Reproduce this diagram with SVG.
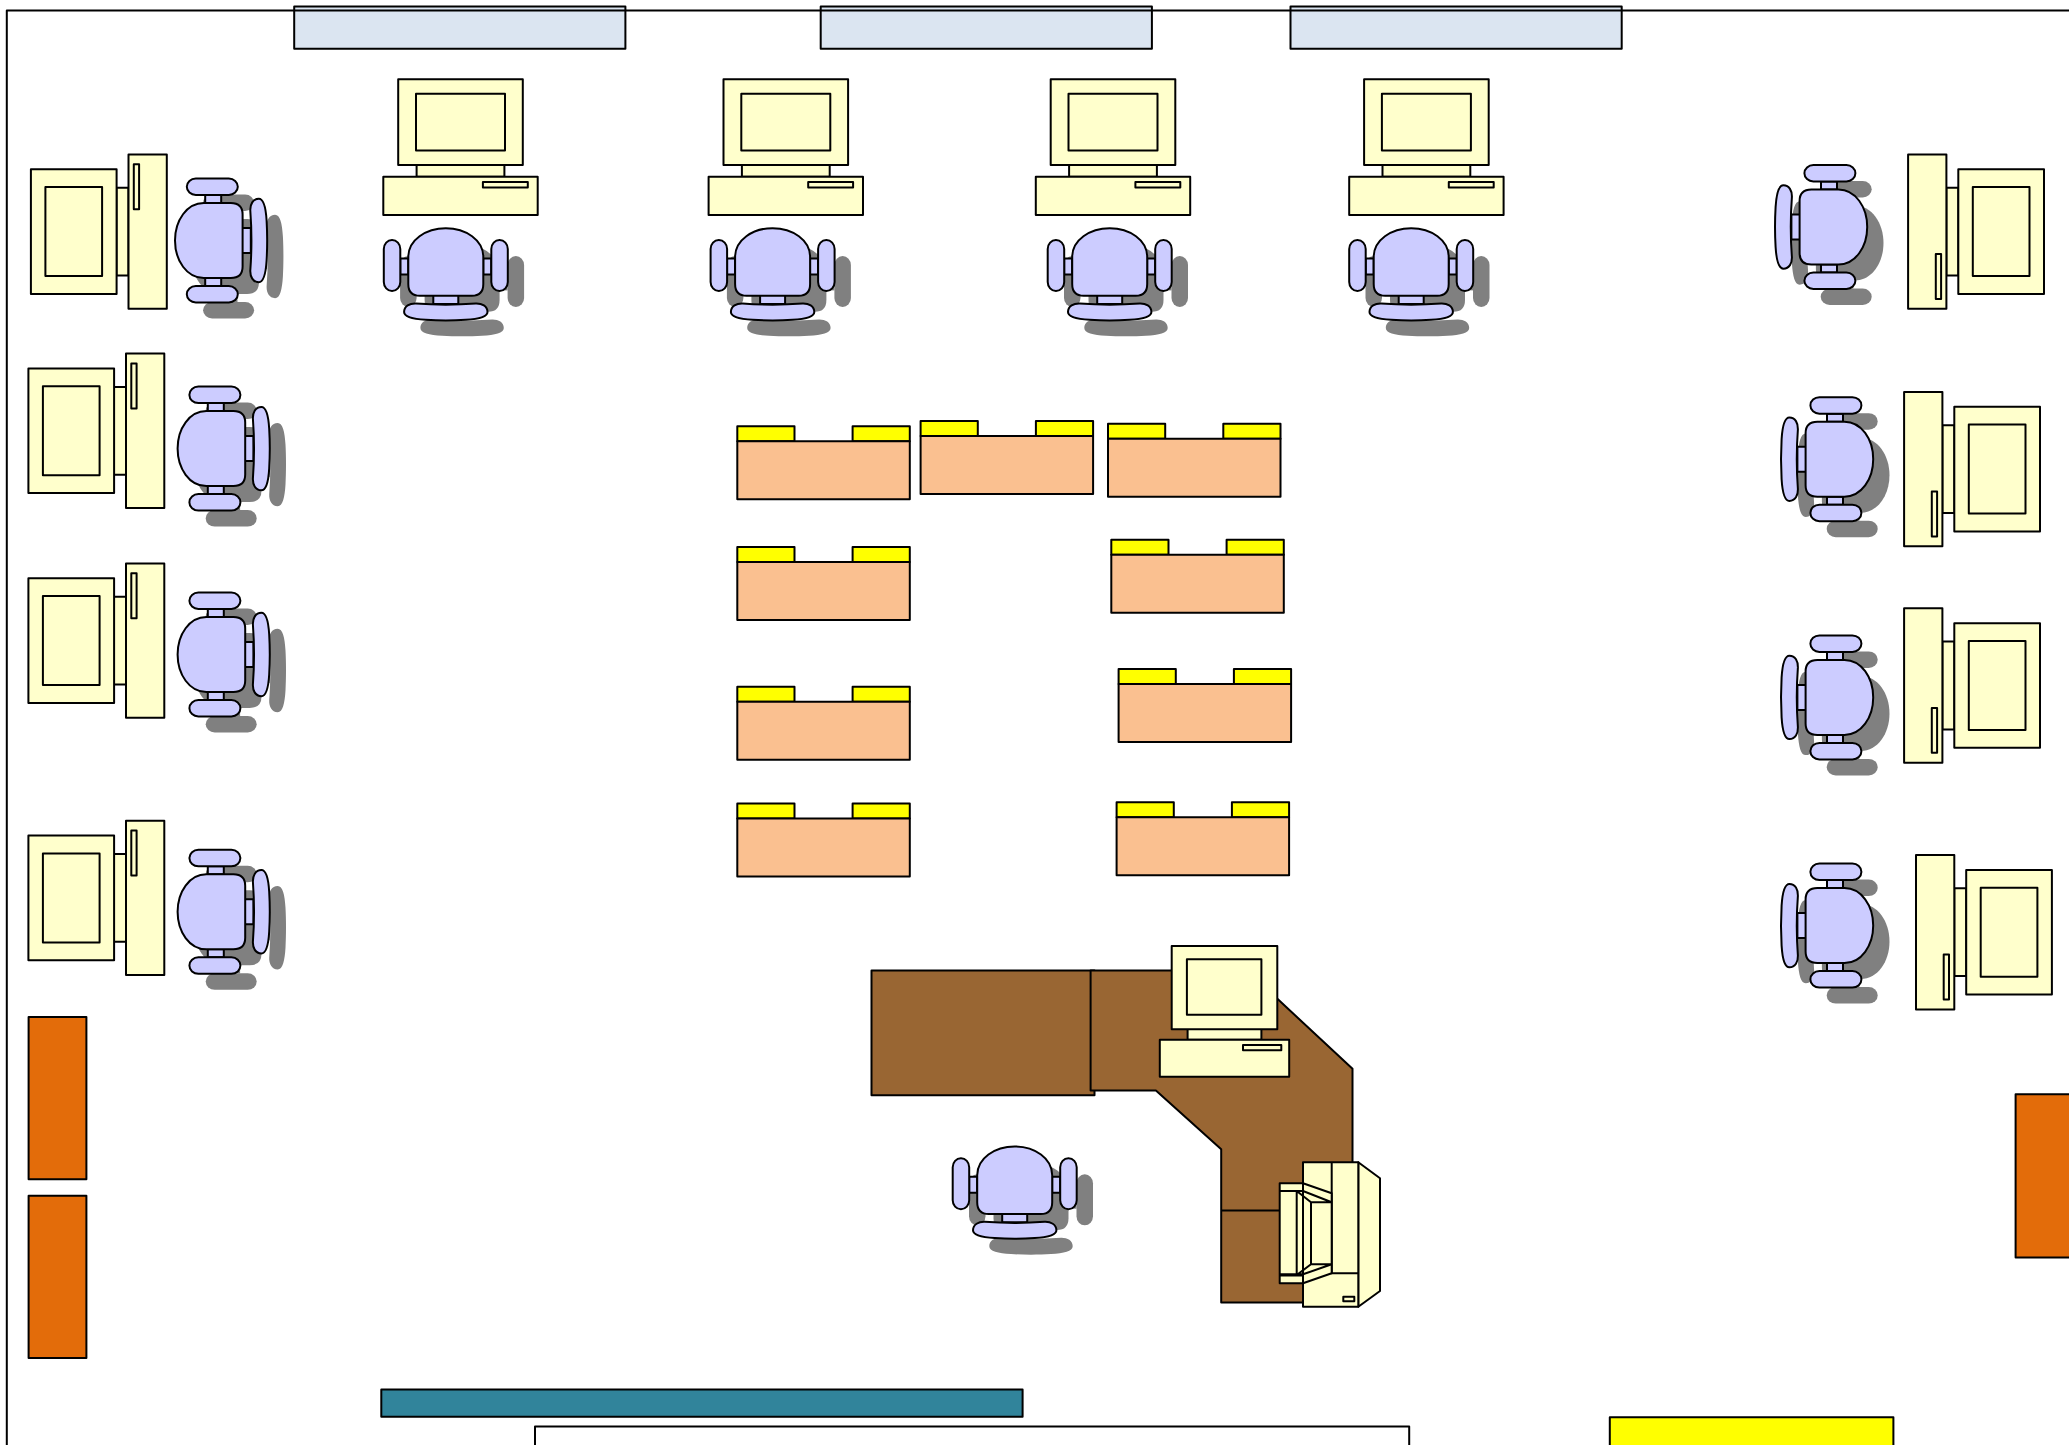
<svg xmlns="http://www.w3.org/2000/svg" width="2069" height="1445" viewBox="0 0 2069 1445">
<style>
.s{stroke:#000;stroke-width:2;stroke-linejoin:round}
.y{fill:#ffffcc}.c{fill:#ccccff}.sh{fill:#808080}
.yl{fill:#ffff00}.p{fill:#fac090}.b{fill:#996633}.lb{fill:#dbe5f1}.o{fill:#e36c0a}.t{fill:#31849b}
.n{fill:none}
</style>
<defs>
<g id="chairShape">
<rect x="-45.5" y="-3.6" width="8" height="16"/>
<rect x="37.5" y="-3.6" width="8" height="16"/>
<rect x="-12.5" y="33" width="25" height="9"/>
<rect x="-62" y="-22" width="16.5" height="51" rx="8.2" ry="9"/>
<rect x="45.5" y="-22" width="16.5" height="51" rx="8.2" ry="9"/>
<path d="M-37.5-5C-37.5-22-20-33.8 0-33.8S37.5-22 37.5-5V22Q37.5 33.8 26 33.8H-26Q-37.5 33.8-37.5 22Z"/>
<path d="M-41.7 50C-41.7 44-36 41.3-30 41.5C-10 43 10 43 30 41.5C36 41.3 41.7 44 41.7 50C41.7 55 33 57 20 57.8C8 58.5-8 58.5-20 57.8C-33 57-41.7 55-41.7 50Z"/>
</g>
<g id="chair-body" class="c s"><use href="#chairShape"/></g>
<g id="chair-shadow" class="sh"><use href="#chairShape"/></g>
<g id="pc" class="y s">
<rect x="-43.9" y="-12" width="87.8" height="12"/>
<rect x="-62.3" y="-97.6" width="124.6" height="85.7"/>
<rect x="-44.5" y="-83.1" width="89" height="56.7"/>
<rect x="-77.2" y="0" width="154.4" height="38.3"/>
<rect x="22.4" y="5.3" width="44.9" height="5.3"/>
</g>
<g id="table" class="s">
<rect class="yl" x="0" y="0" width="57.2" height="15"/>
<rect class="yl" x="115.3" y="0" width="57.2" height="15"/>
<rect class="p" x="0" y="15" width="172.5" height="58"/>
</g>
</defs>
<rect width="2069" height="1445" fill="#fff"/>
<g id="window-1"><rect class="lb s" x="294.2" y="6.6" width="331.2" height="42.2"/></g>
<g id="window-2"><rect class="lb s" x="820.7" y="6.6" width="331.2" height="42.2"/></g>
<g id="window-3"><rect class="lb s" x="1290.5" y="6.6" width="331.2" height="42.2"/></g>
<g id="room-border"><path class="n s" d="M2075 10.6H6.8V1450"/></g>

<g id="top-station-1"><use href="#chair-shadow" transform="translate(462.1,278)"/><use href="#chair-body" transform="translate(445.8,262)"/><use href="#pc" transform="translate(460.5,176.8)"/></g>
<g id="top-station-2"><use href="#chair-shadow" transform="translate(788.9,278)"/><use href="#chair-body" transform="translate(772.6,262)"/><use href="#pc" transform="translate(785.8,176.8)"/></g>
<g id="top-station-3"><use href="#chair-shadow" transform="translate(1126,278)"/><use href="#chair-body" transform="translate(1109.7,262)"/><use href="#pc" transform="translate(1113,176.8)"/></g>
<g id="top-station-4"><use href="#chair-shadow" transform="translate(1427.5,278)"/><use href="#chair-body" transform="translate(1411.2,262)"/><use href="#pc" transform="translate(1426.4,176.8)"/></g>

<g id="left-station-1"><use href="#chair-shadow" transform="translate(225.1,256.5) rotate(-90)"/><use href="#chair-body" transform="translate(208.8,240.5) rotate(-90)"/><use href="#pc" transform="translate(128.5,231.6) rotate(-90)"/></g>
<g id="left-station-2"><use href="#chair-shadow" transform="translate(227.7,464.6) rotate(-90)"/><use href="#chair-body" transform="translate(211.4,448.6) rotate(-90)"/><use href="#pc" transform="translate(126,430.8) rotate(-90)"/></g>
<g id="left-station-3"><use href="#chair-shadow" transform="translate(227.7,670.5) rotate(-90)"/><use href="#chair-body" transform="translate(211.4,654.5) rotate(-90)"/><use href="#pc" transform="translate(126,640.6) rotate(-90)"/></g>
<g id="left-station-4"><use href="#chair-shadow" transform="translate(227.7,927.8) rotate(-90)"/><use href="#chair-body" transform="translate(211.4,911.8) rotate(-90)"/><use href="#pc" transform="translate(126,897.9) rotate(-90)"/></g>

<g id="right-station-1"><use href="#chair-shadow" transform="translate(1849.7,243) rotate(90)"/><use href="#chair-body" transform="translate(1833.4,227) rotate(90)"/><use href="#pc" transform="translate(1946.4,231.6) rotate(90)"/></g>
<g id="right-station-2"><use href="#chair-shadow" transform="translate(1855.7,475.2) rotate(90)"/><use href="#chair-body" transform="translate(1839.4,459.2) rotate(90)"/><use href="#pc" transform="translate(1942.4,469.1) rotate(90)"/></g>
<g id="right-station-3"><use href="#chair-shadow" transform="translate(1855.7,713.4) rotate(90)"/><use href="#chair-body" transform="translate(1839.4,697.4) rotate(90)"/><use href="#pc" transform="translate(1942.4,685.5) rotate(90)"/></g>
<g id="right-station-4"><use href="#chair-shadow" transform="translate(1855.7,941.6) rotate(90)"/><use href="#chair-body" transform="translate(1839.4,925.6) rotate(90)"/><use href="#pc" transform="translate(1954.3,932.2) rotate(90)"/></g>

<g id="table-1"><use href="#table" x="737.3" y="426.2"/></g>
<g id="table-2"><use href="#table" x="920.6" y="420.9"/></g>
<g id="table-3"><use href="#table" x="1108" y="423.8"/></g>
<g id="table-4"><use href="#table" x="737.3" y="546.9"/></g>
<g id="table-5"><use href="#table" x="1111.3" y="539.7"/></g>
<g id="table-6"><use href="#table" x="737.3" y="686.8"/></g>
<g id="table-7"><use href="#table" x="1118.6" y="669"/></g>
<g id="table-8"><use href="#table" x="737.3" y="803.6"/></g>
<g id="table-9"><use href="#table" x="1116.6" y="802.3"/></g>

<g id="reception-desk">
<rect class="b s" x="871.5" y="970.5" width="223" height="124.7"/>
<polygon class="b s" points="1090.6,970.5 1247,970.5 1352.5,1068.8 1352.5,1302.4 1221.2,1302.4 1221.2,1149.3 1155.9,1090.6 1090.6,1090.6"/>
<path class="n s" d="M1221.2 1210.4H1285"/>
</g>
<g id="reception-chair"><use href="#chair-shadow" transform="translate(1031,1196.3)"/><use href="#chair-body" transform="translate(1014.7,1180.3)"/></g>
<g id="reception-pc" class="y s">
<rect x="1187.6" y="1029" width="73.8" height="10.8"/>
<rect x="1171.7" y="946.1" width="105.6" height="83.1"/>
<rect x="1186.9" y="959.3" width="74.5" height="55.4"/>
<rect x="1159.8" y="1039.8" width="129.4" height="36.9"/>
<rect x="1243" y="1045" width="38.3" height="5.3"/>
</g>
<g id="side-pc" class="y s">
<polygon points="1358.3,1162.3 1380,1178.3 1380,1291 1358.3,1306.7"/>
<rect x="1303" y="1162.3" width="55.3" height="144.4"/>
<path class="n" d="M1331.7 1162.3V1273.3H1358.3"/>
<rect x="1343.3" y="1296.7" width="11" height="4.6"/>
<polygon points="1303,1183.3 1331.7,1193.3 1331.7,1273.3 1303,1283.3"/>
<rect x="1279.7" y="1183.3" width="23.3" height="100"/>
<path class="n" d="M1279.7 1191H1303L1331.7 1202.3M1279.7 1274.3H1303L1331.7 1264.3M1296.7 1191V1275L1311 1264.3V1202.3L1296.7 1191M1311 1202.3H1331.7M1311 1264.3H1331.7"/>
<path fill="#000" stroke="none" d="M1279.7 1274H1303V1276.5H1279.7Z"/>
</g>

<g id="cabinet-1"><rect class="o s" x="28.6" y="1017" width="57.8" height="162.3"/></g>
<g id="cabinet-2"><rect class="o s" x="28.6" y="1195.8" width="57.8" height="162.3"/></g>
<g id="cabinet-3"><rect class="o s" x="2015.6" y="1094.3" width="70" height="163.3"/></g>
<g id="bench"><rect class="t s" x="381.3" y="1389.6" width="641.3" height="27.1"/></g>
<g id="box-white"><rect fill="#fff" class="s" x="535" y="1426.6" width="874.2" height="40"/></g>
<g id="box-yellow"><rect class="yl s" x="1609.8" y="1417.2" width="283.6" height="50"/></g>
</svg>
